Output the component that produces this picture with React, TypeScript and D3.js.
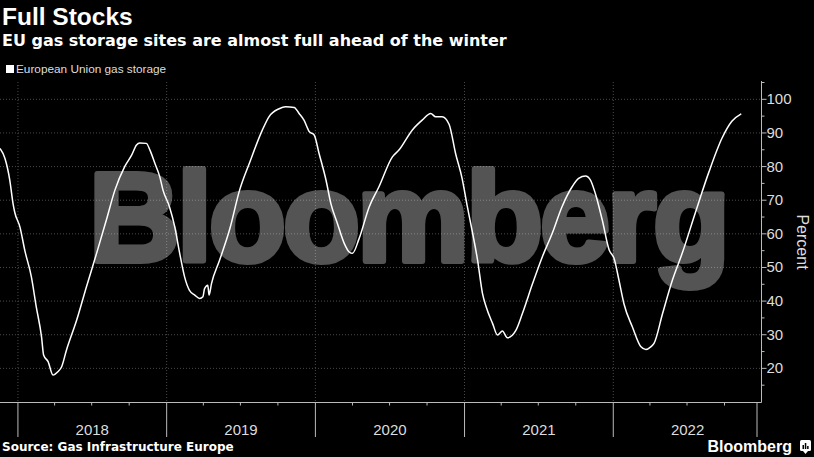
import React from "react";
import * as d3 from "d3";

const W = 814;
const H = 457;

const winter2018: [string, number][] = [
  ["2017-11-18", 85.4], ["2017-11-30", 82.5], ["2017-12-12", 76], ["2017-12-20", 69],
  ["2017-12-24", 66.5], ["2018-01-06", 62], ["2018-01-18", 55], ["2018-02-03", 47.2],
  ["2018-02-15", 38.3], ["2018-02-28", 29.3], ["2018-03-05", 24], ["2018-03-16", 22],
  ["2018-03-28", 18], ["2018-04-09", 19], ["2018-04-18", 20.4],
];
const year2018: [string, number][] = [
  ["2018-04-30", 25.4], ["2018-05-25", 34.3], ["2018-06-18", 44.2], ["2018-07-13", 54.2],
  ["2018-08-06", 64.1], ["2018-08-27", 73], ["2018-09-20", 80], ["2018-10-07", 83.4],
  ["2018-10-19", 86.4], ["2018-10-27", 87], ["2018-11-12", 86.9], ["2018-11-21", 84.9],
  ["2018-12-03", 81], ["2018-12-15", 77], ["2018-12-23", 73],
];
const year2019: [string, number][] = [
  ["2019-01-08", 68], ["2019-01-21", 62], ["2019-02-02", 54.2], ["2019-02-14", 47.2],
  ["2019-02-26", 43.2], ["2019-03-11", 41.8], ["2019-03-23", 40.8], ["2019-03-31", 41.3],
  ["2019-04-04", 43.7], ["2019-04-12", 44.7], ["2019-04-15", 41.8], ["2019-04-21", 45.2],
  ["2019-05-11", 52.2], ["2019-06-05", 61.5], ["2019-06-29", 73], ["2019-07-23", 81],
  ["2019-08-24", 90.9], ["2019-09-09", 94.8], ["2019-10-04", 97.2], ["2019-10-20", 97.8],
  ["2019-11-10", 97.6], ["2019-11-22", 95.8], ["2019-12-04", 93.8], ["2019-12-17", 90.4],
  ["2019-12-29", 89.4],
];
const year2020: [string, number][] = [
  ["2020-01-10", 83.9], ["2020-01-27", 76], ["2020-02-08", 69], ["2020-02-24", 63.1],
  ["2020-03-12", 57.1], ["2020-03-24", 54.6], ["2020-04-01", 54.2], ["2020-04-17", 58.5],
  ["2020-05-12", 68], ["2020-06-05", 74], ["2020-07-08", 82.9], ["2020-07-24", 84.9],
  ["2020-08-26", 90.9], ["2020-09-19", 93.8], ["2020-10-10", 95.8], ["2020-10-22", 94.8],
  ["2020-11-07", 94.8], ["2020-11-24", 92.6], ["2020-12-10", 83.9], ["2020-12-26", 76.5],
];
const year2021: [string, number][] = [
  ["2021-01-08", 68], ["2021-01-21", 60.1], ["2021-02-02", 52.2], ["2021-02-14", 42.3],
  ["2021-02-23", 38.3], ["2021-03-11", 33.3], ["2021-03-23", 29.9], ["2021-04-04", 31.1],
  ["2021-04-16", 29.1], ["2021-05-07", 31.3], ["2021-05-23", 36.3], ["2021-06-17", 45.2],
  ["2021-07-11", 53.2], ["2021-08-04", 60.1], ["2021-08-28", 68], ["2021-09-22", 74],
  ["2021-10-08", 76.5], ["2021-10-25", 77.2], ["2021-11-06", 76], ["2021-11-18", 72],
  ["2021-12-05", 64.1], ["2021-12-22", 55.2],
];
const year2022: [string, number][] = [
  ["2022-01-03", 52.7], ["2022-01-15", 46.2], ["2022-01-27", 39.3], ["2022-02-17", 32.3],
  ["2022-03-10", 26.4], ["2022-03-22", 25.6], ["2022-04-03", 26.4], ["2022-04-11", 27.4],
  ["2022-05-02", 36.3], ["2022-05-26", 46.2], ["2022-06-20", 54.5], ["2022-07-22", 66.5],
  ["2022-08-24", 78.5], ["2022-09-25", 88.5], ["2022-10-19", 93.5], ["2022-11-11", 95.7],
];

const yearLabels = ["2018", "2019", "2020", "2021", "2022"];
const yTicks = [20, 30, 40, 50, 60, 70, 80, 90, 100];

const parse = d3.timeParse("%Y-%m-%d");
const series = [...winter2018, ...year2018, ...year2019, ...year2020, ...year2021, ...year2022].map(
  ([d, v]) => ({ date: parse(d) as Date, value: v })
);

export default function App() {
  const x = d3
    .scaleTime()
    .domain([parse("2017-11-18") as Date, parse("2023-01-01") as Date])
    .range([0, 762]);
  const y = d3.scaleLinear().domain([10, 105]).range([402, 82.5]);

  const line = d3
    .line<{ date: Date; value: number }>()
    .x((d) => x(d.date))
    .y((d) => y(d.value))
    .curve(d3.curveMonotoneX);

  const yearStarts = yearLabels.map((yl) => parse(`${yl}-01-01`) as Date);
  const quarterTicks = d3.timeMonth
    .every(3)!
    .range(parse("2018-01-01") as Date, parse("2023-01-01") as Date)
    .filter((d) => d.getMonth() !== 0);
  const minorY = d3.range(15, 106, 5).filter((v) => v % 10 !== 0);
  const axisX = 761.5;
  const axisY = 402.5;
  const gridColor = "#4a4a4a";
  const font = "'Liberation Sans', Arial, sans-serif";
  const wide = "'DejaVu Sans', Verdana, sans-serif";

  return (
    <svg
      width={W}
      height={H}
      style={{ position: "absolute", left: 0, top: 0, background: "#000" }}
      fontFamily={font}
    >
      <rect x={0} y={0} width={W} height={H} fill="#000" />
      {/* gridlines */}
      {yTicks.map((t) => (
        <line
          key={"gy" + t}
          x1={0}
          x2={axisX}
          y1={y(t)}
          y2={y(t)}
          stroke={gridColor}
          strokeDasharray="1,2"
        />
      ))}
      {yearStarts.map((d, i) => (
        <line
          key={"gx" + i}
          x1={x(d)}
          x2={x(d)}
          y1={82}
          y2={axisY}
          stroke={gridColor}
          strokeDasharray="1,2"
        />
      ))}
      {/* watermark */}
      <g opacity={0.33}>
        <text
          x={89}
          y={261}
          fontSize={126}
          fontWeight="bold"
          fill="#ffffff"
          stroke="#ffffff"
          strokeWidth={6}
          strokeLinejoin="round"
          letterSpacing={-3}
        >
          Bloomberg
        </text>
      </g>
      {/* data line */}
      <path d={line(series) || ""} fill="none" stroke="#ffffff" strokeWidth={1.5} />
      {/* bottom axis */}
      <line x1={0} x2={axisX} y1={axisY} y2={axisY} stroke="#bbbbbb" strokeWidth={1} />
      {quarterTicks.map((d, i) => (
        <line
          key={"qt" + i}
          x1={x(d)}
          x2={x(d)}
          y1={axisY}
          y2={axisY + 3}
          stroke="#bbbbbb"
        />
      ))}
      {yearStarts.map((d, i) => (
        <line key={"ys" + i} x1={x(d)} x2={x(d)} y1={axisY} y2={437} stroke="#bbbbbb" />
      ))}
      <line x1={757} x2={757} y1={axisY} y2={437} stroke="#bbbbbb" />
      {yearLabels.map((yl, i) => {
        const s = yearStarts[i];
        const e = parse(`${+yl + 1}-01-01`) as Date;
        return (
          <text
            key={"yl" + yl}
            x={(x(s) + x(e)) / 2}
            y={435}
            fontSize={15}
            fill="#dddddd"
            textAnchor="middle"
          >
            {yl}
          </text>
        );
      })}
      {/* right axis */}
      <line x1={axisX} x2={axisX} y1={81} y2={axisY} stroke="#bbbbbb" />
      {minorY.map((t) => (
        <line key={"my" + t} x1={axisX} x2={axisX + 3} y1={y(t)} y2={y(t)} stroke="#bbbbbb" />
      ))}
      {yTicks.map((t) => (
        <g key={"yt" + t}>
          <line x1={axisX} x2={axisX + 5} y1={y(t)} y2={y(t)} stroke="#bbbbbb" />
          <text x={axisX + 5} y={y(t) + 5} fontSize={15} fill="#dddddd">
            {t}
          </text>
        </g>
      ))}
      <text
        transform={`translate(797, 242) rotate(90)`}
        textAnchor="middle"
        fontSize={16}
        fill="#dddddd"
      >
        Percent
      </text>
      {/* titles */}
      <text x={2} y={25} fontSize={24.5} fontWeight="bold" fill="#ffffff">
        Full Stocks
      </text>
      <text x={2} y={46} fontSize={16} fontWeight="bold" fill="#ffffff" fontFamily={wide}>
        EU gas storage sites are almost full ahead of the winter
      </text>
      <rect x={6} y={65} width={8} height={8} fill="#ffffff" />
      <text x={16} y={73} fontSize={11.8} fill="#dddddd">
        European Union gas storage
      </text>
      {/* footer */}
      <text x={2} y={451} fontSize={12} fontWeight="bold" fill="#ffffff" fontFamily={wide}>
        Source: Gas Infrastructure Europe
      </text>
      <text x={792} y={451.5} fontSize={16} fontWeight="bold" fill="#ffffff" textAnchor="end">
        Bloomberg
      </text>
      <g transform="translate(800, 440)">
        <rect x={0} y={0} width={11} height={11} rx={1.5} fill="#ffffff" />
        <path d="M3,11 L5.5,14 L8,11 Z" fill="#ffffff" />
        <rect x={2.5} y={5} width={1.5} height={4} fill="#000" />
        <rect x={4.8} y={3} width={1.5} height={6} fill="#000" />
        <rect x={7.1} y={6} width={1.5} height={3} fill="#000" />
      </g>
    </svg>
  );
}
